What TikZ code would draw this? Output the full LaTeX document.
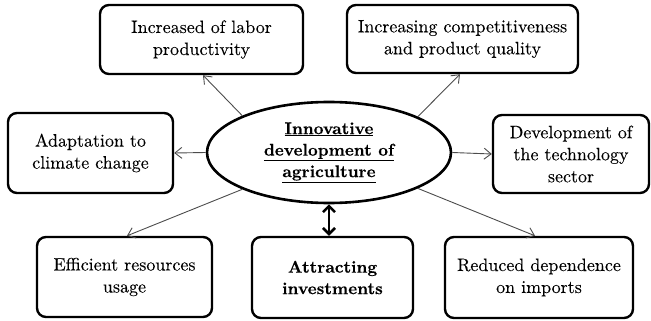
\documentclass[tikz,border=0pt]{standalone}
\usepackage{fontspec}
\setmainfont{lmroman10-regular.otf}[BoldFont=lmroman10-bold.otf, UprightFeatures={FakeBold=0.1}, BoldFeatures={FakeBold=0.35}]
\usetikzlibrary{shapes.geometric,arrows.meta}
\begin{document}
\begin{tikzpicture}[x=1pt,y=-1pt,
  every node/.style={font=\fontsize{18}{22}\selectfont, align=center, inner sep=0pt},
  strong/.style={font=\fontsize{17}{21.5}\selectfont\bfseries},
  topic/.style={draw, line width=2.4pt, rounded corners=9pt, rectangle},
  hub/.style={draw, line width=2.6pt, ellipse},
  conn/.style={draw=black!70, line width=0.9pt, -{Straight Barb[length=7pt,width=11pt,line width=0.9pt]}},
  link/.style={line width=2.6pt, {Straight Barb[length=6pt,width=12pt]}-{Straight Barb[length=6pt,width=12pt]}}]
\useasboundingbox (0,0) rectangle (651,321);

% central idea
\node[hub, strong, minimum width=244pt, minimum height=101pt] (c) at (329,152.5)
  {\underline{Innovative}\\\underline{development of}\\\underline{agriculture}};

% surrounding outcomes
\node[topic, minimum width=203pt, minimum height=69pt] (labor) at (201.5,39.5)
  {Increased of labor\\productivity};
\node[topic, minimum width=231pt, minimum height=68pt] (compet) at (462.5,39)
  {Increasing competitiveness\\and product quality};
\node[topic, minimum width=165pt, minimum height=80pt] (climate) at (90.5,153)
  {Adaptation to\\climate change};
\node[topic, minimum width=156pt, minimum height=78pt] (tech) at (571,154)
  {Development of\\the technology\\sector};
\node[topic, minimum width=175pt, minimum height=80pt] (resources) at (124.5,277)
  {Efficient resources\\usage};
\node[topic, strong, minimum width=161pt, minimum height=81pt] (invest) at (332.5,277.5)
  {Attracting\\investments};
\node[topic, minimum width=188pt, minimum height=81pt] (imports) at (539,277.5)
  {Reduced dependence\\on imports};

% connectors
\draw[conn] (c.157) -- ([xshift=1.5pt]labor.south);
\draw[conn] (c.22) -- ([xshift=-2.5pt]compet.south);
\draw[conn] (c.west) -- (climate.east);
\draw[conn] (c.east) -- (tech.west);
\draw[conn] (c.203) -- ([xshift=2.5pt]resources.north);
\draw[conn] (c.338) -- ([xshift=-4pt]imports.north);
\draw[link] (c.south) -- (c.south |- invest.north);
\end{tikzpicture}
\end{document}
